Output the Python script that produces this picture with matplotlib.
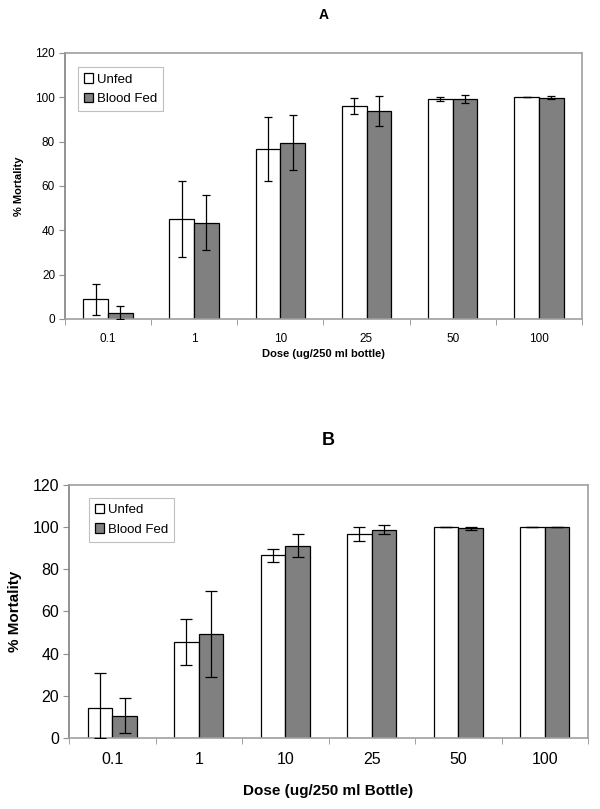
import numpy as np
import matplotlib
matplotlib.use('Agg')
import matplotlib.pyplot as plt

plt.rcParams['font.family'] = ['Liberation Sans', 'DejaVu Sans']

doses = ['0.1', '1', '10', '25', '50', '100']
series = ['Unfed', 'Blood Fed']

# panel A
a_unfed = [8.8, 45.0, 76.7, 96.0, 99.2, 100.0]
a_unfed_err = [7.2, 17.0, 14.5, 3.6, 0.9, 0.0]
a_fed = [2.8, 43.3, 79.5, 93.8, 99.2, 99.8]
a_fed_err = [3.2, 12.4, 12.4, 6.9, 1.6, 0.7]

# panel B
b_unfed = [14.4, 45.4, 86.6, 96.9, 100.0, 100.0]
b_unfed_err = [16.2, 10.9, 3.1, 3.3, 0.0, 0.0]
b_fed = [10.6, 49.2, 91.2, 98.8, 99.5, 100.0]
b_fed_err = [8.2, 20.4, 5.4, 2.1, 0.7, 0.0]

fig = plt.figure(figsize=(6, 8.09), dpi=100)
axA = fig.add_axes([0.108, 0.6057, 0.862, 0.329])
axB = fig.add_axes([0.115, 0.0878, 0.865, 0.3127])

def panel(ax, unfed, unfed_err, fed, fed_err, xlabel, fs_tick, fs_lab, leg_fs, leg_pos, cap):
    x = np.arange(len(doses))
    w = 0.286
    ax.bar(x - w/2, unfed, w, color='white', edgecolor='black', lw=0.9, label=series[0], zorder=2)
    ax.bar(x + w/2, fed, w, color='#808080', edgecolor='black', lw=0.9, label=series[1], zorder=2)
    lo = np.minimum(unfed_err, unfed)
    ax.errorbar(x - w/2, unfed, yerr=[lo, unfed_err], fmt='none', ecolor='black',
                elinewidth=0.9, capsize=cap, capthick=0.9, zorder=3)
    lo = np.minimum(fed_err, fed)
    ax.errorbar(x + w/2, fed, yerr=[lo, fed_err], fmt='none', ecolor='black',
                elinewidth=0.9, capsize=cap, capthick=0.9, zorder=3)
    ax.set_xlim(-0.5, 5.5)
    ax.set_ylim(0, 120)
    ax.set_yticks(range(0, 121, 20))
    ax.set_xticks(x)
    ax.set_xticklabels(doses)
    ax.set_xticks(np.arange(-0.5, 6, 1), minor=True)
    ax.tick_params(axis='x', which='major', length=0, labelsize=fs_tick, pad=10)
    ax.tick_params(axis='x', which='minor', length=4, color='#909090', direction='out')
    ax.tick_params(axis='y', length=4, color='#909090', labelsize=fs_tick, pad=3)
    for s in ax.spines.values():
        s.set_color('#a0a0a0')
        s.set_linewidth(1.2)
    ax.spines['left'].set_color('#808080')
    ax.set_xlabel(xlabel, fontsize=fs_lab, fontweight='bold')
    ax.set_ylabel('% Mortality', fontsize=fs_lab, fontweight='bold')
    leg = ax.legend(loc='upper left', bbox_to_anchor=leg_pos, fontsize=leg_fs,
                    frameon=True, fancybox=False, handlelength=0.7, handleheight=0.7,
                    handletextpad=0.3, borderpad=0.45, labelspacing=0.55)
    leg.get_frame().set_edgecolor('#b0b0b0')
    leg.get_frame().set_linewidth(0.8)

panel(axA, a_unfed, a_unfed_err, a_fed, a_fed_err, 'Dose (ug/250 ml bottle)',
      8.5, 8, 9.5, (0.012, 0.97), 3)
axA.xaxis.labelpad = 3
axA.yaxis.labelpad = 8
axA.set_title('A', fontsize=10, fontweight='bold', pad=24)

panel(axB, b_unfed, b_unfed_err, b_fed, b_fed_err, 'Dose (ug/250 ml Bottle)',
      11.5, 11, 9.5, (0.025, 0.975), 4)
axB.xaxis.labelpad = 12
axB.yaxis.labelpad = 8
axB.set_title('B', fontsize=13, fontweight='bold', pad=29)

fig.savefig('out.png', dpi=100)
